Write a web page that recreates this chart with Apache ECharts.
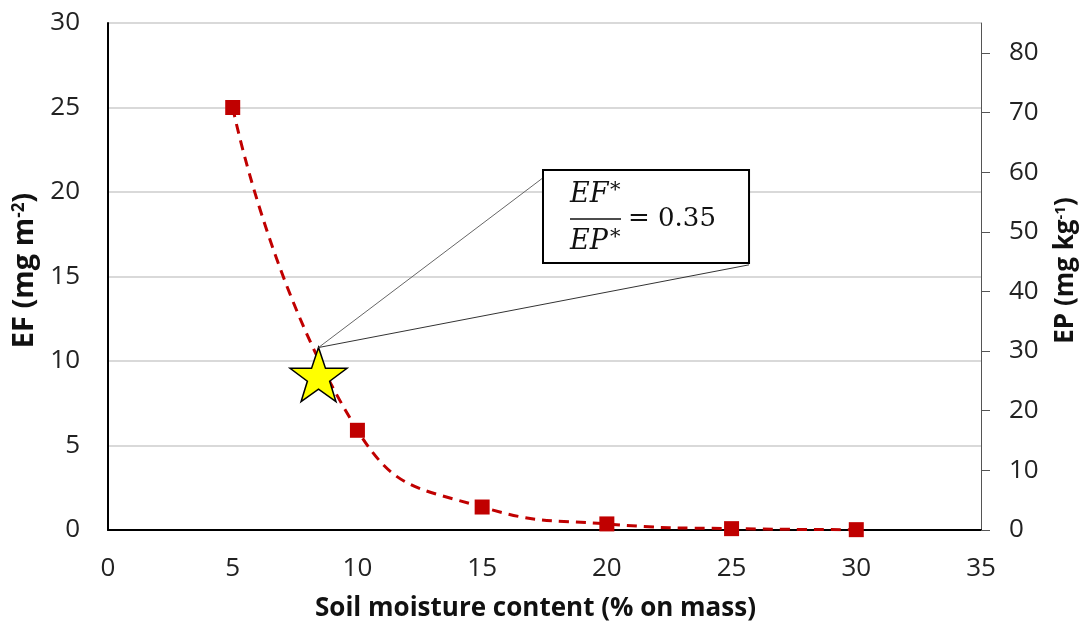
<!DOCTYPE html>
<html>
<head>
<meta charset="utf-8">
<title>EF vs soil moisture</title>
<script src="https://cdn.jsdelivr.net/npm/echarts@6/dist/echarts.min.js"></script>
<style>
    html, body { margin: 0; padding: 0; background: #fff; }
    #chart { width: 1080px; height: 625px; }
</style>
</head>
<body>
<div id="chart"></div>
<script>
    // values
    var moisture = [5, 10, 15, 20, 25, 30];
    var efValues = [25, 5.9, 1.36, 0.36, 0.08, 0.02];
    var starPoint = [8.44, 9.2];
    var ratioValue = '0.35';
    // callout box corners and line ends, in data units (x, EF)
    var boxTopLeft = [17.44, 21.3];
    var boxBottomRight = [25.7, 15.8];
    var calloutEnds = [[17.44, 20.84], [25.7, 15.69]];

    var labelFont = 'Open Sans';
    var mathFont = 'DejaVu Serif';

    var chart = echarts.init(document.getElementById('chart'));
    var option = {
        animation: false,
        grid: { left: 108, right: 99, top: 23, bottom: 95, containLabel: false, outerBoundsMode: 'none' },
        xAxis: {
            type: 'value',
            min: 0,
            max: 35,
            interval: 5,
            name: 'Soil moisture content (% on mass)',
            nameLocation: 'middle',
            nameGap: 66,
            nameTextStyle: { fontFamily: labelFont, fontWeight: 'bold', fontSize: 26, color: '#111', padding: [0, 18, 0, 0] },
            axisLine: { lineStyle: { color: '#000', width: 2 } },
            axisTick: { show: false },
            splitLine: { show: false },
            axisLabel: { fontFamily: labelFont, fontSize: 26, color: '#222', margin: 26 }
        },
        yAxis: [
            {
                type: 'value',
                min: 0,
                max: 30,
                interval: 5,
                name: 'EF (mg m{sup|-2})',
                nameLocation: 'middle',
                nameRotate: 90,
                nameGap: 64,
                nameTextStyle: {
                    fontFamily: labelFont, fontWeight: 'bold', fontSize: 29, color: '#111', padding: [0, 0, 0, 12],
                    rich: { sup: { fontFamily: labelFont, fontWeight: 'bold', fontSize: 17, color: '#111', verticalAlign: 'top' } }
                },
                axisLine: { show: true, lineStyle: { color: '#000', width: 2 } },
                axisTick: { show: false },
                splitLine: { show: true, lineStyle: { color: '#d9d9d9', width: 2 } },
                axisLabel: { fontFamily: labelFont, fontSize: 26, color: '#222', margin: 28 }
            },
            {
                type: 'value',
                position: 'right',
                min: 0,
                max: 85,
                interval: 10,
                name: 'EP (mg kg{sup|-1})',
                nameLocation: 'middle',
                nameRotate: 90,
                nameGap: 72,
                nameTextStyle: {
                    fontFamily: labelFont, fontWeight: 'bold', fontSize: 26, color: '#111', padding: [0, 0, 0, 12],
                    rich: { sup: { fontFamily: labelFont, fontWeight: 'bold', fontSize: 15, color: '#111', verticalAlign: 'top' } }
                },
                axisLine: { show: true, lineStyle: { color: '#555', width: 1 } },
                axisTick: { show: true, inside: false, length: 9, lineStyle: { color: '#555', width: 1 } },
                splitLine: { show: false },
                axisLabel: { fontFamily: labelFont, fontSize: 26, color: '#222', margin: 28, showMaxLabel: false }
            }
        ],
        series: [
            {
                name: 'EF',
                type: 'line',
                yAxisIndex: 0,
                data: moisture.map(function (m, i) { return [m, efValues[i]]; }),
                smooth: 0.5,
                symbol: 'rect',
                symbolSize: 15,
                itemStyle: { color: '#c00000' },
                lineStyle: { color: '#c00000', width: 3, type: [10, 7] },
                z: 3
            },
            {
                name: 'optimum',
                type: 'scatter',
                yAxisIndex: 0,
                data: [starPoint],
                symbol: 'path://M50,0 L61.8,35.1 L98.1,35.1 L68.8,56.7 L79.4,91 L50,70 L20.6,91 L31.2,56.7 L1.9,35.1 L38.2,35.1 Z',
                symbolSize: [57, 54],
                itemStyle: { color: '#ffff00', borderColor: '#000', borderWidth: 1.5, opacity: 1 },
                z: 5
            }
        ]
    };
    chart.setOption(option);

    // callout box with the EF*/EP* ratio
    var star = chart.convertToPixel({ seriesIndex: 1 }, starPoint);
    var tip = [star[0], star[1] - 27];
    var tl = chart.convertToPixel({ seriesIndex: 1 }, boxTopLeft);
    var br = chart.convertToPixel({ seriesIndex: 1 }, boxBottomRight);
    var e1 = chart.convertToPixel({ seriesIndex: 1 }, calloutEnds[0]);
    var e2 = chart.convertToPixel({ seriesIndex: 1 }, calloutEnds[1]);
    var bx = tl[0], by = tl[1];

    chart.setOption({
        graphic: [
            { type: 'line', z: 10, shape: { x1: tip[0], y1: tip[1], x2: e1[0], y2: e1[1] }, style: { stroke: '#666', lineWidth: 1 } },
            { type: 'line', z: 10, shape: { x1: tip[0], y1: tip[1], x2: e2[0], y2: e2[1] }, style: { stroke: '#333', lineWidth: 1 } },
            { type: 'rect', z: 11, shape: { x: bx, y: by, width: br[0] - bx, height: br[1] - by }, style: { fill: '#fff', stroke: '#000', lineWidth: 2 } },
            { type: 'text', z: 12, x: bx + 27, y: by + 25, style: { text: 'EF', fontFamily: mathFont, fontStyle: 'italic', fontSize: 27, fill: '#111', verticalAlign: 'middle' } },
            { type: 'text', z: 12, x: bx + 67, y: by + 21, style: { text: '*', fontFamily: mathFont, fontSize: 21, fill: '#111', verticalAlign: 'middle' } },
            { type: 'line', z: 12, shape: { x1: bx + 27, y1: by + 49, x2: bx + 78, y2: by + 49 }, style: { stroke: '#111', lineWidth: 1.5 } },
            { type: 'text', z: 12, x: bx + 27, y: by + 72, style: { text: 'EP', fontFamily: mathFont, fontStyle: 'italic', fontSize: 27, fill: '#111', verticalAlign: 'middle' } },
            { type: 'text', z: 12, x: bx + 67, y: by + 68, style: { text: '*', fontFamily: mathFont, fontSize: 21, fill: '#111', verticalAlign: 'middle' } },
            { type: 'text', z: 12, x: bx + 85, y: by + 49, style: { text: '= ' + ratioValue, fontFamily: mathFont, fontSize: 26, fill: '#111', verticalAlign: 'middle' } }
        ]
    });
</script>
</body>
</html>
